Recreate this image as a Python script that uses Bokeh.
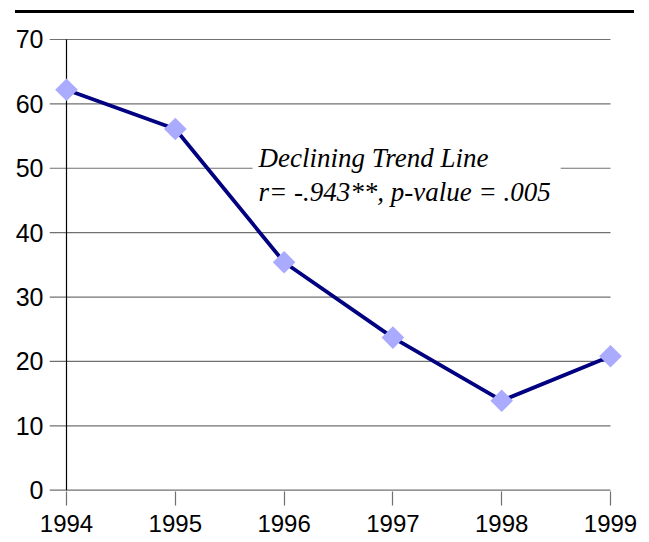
import math
from bokeh.plotting import figure
from bokeh.models import Range1d, Label, Div, FixedTicker
from bokeh.layouts import column
from bokeh.embed import file_html
from bokeh.resources import INLINE

years = [1994, 1995, 1996, 1997, 1998, 1999]
values = [62.2, 56.1, 35.4, 23.7, 13.9, 20.8]
y_ticks = [0, 10, 20, 30, 40, 50, 60, 70]
annotation_lines = ["Declining Trend Line", "r= -.943**, p-value = .005"]

# scale: 108.8 px per year, 451/70 px per unit
PX_X = 544 / 5
PX_Y = 451 / 70
x_start = years[0] - 17 / PX_X      # room for the tick extension of gridlines
x_end = years[-1] + 13 / PX_X       # room for the last marker
y_start = y_ticks[0] - 1.3 / PX_Y
y_end = y_ticks[-1] + 2 / PX_Y

p = figure(
    frame_width=int(round((x_end - x_start) * PX_X)),
    frame_height=int(round((y_end - y_start) * PX_Y)),
    x_range=Range1d(x_start, x_end), y_range=Range1d(y_start, y_end),
    output_backend="svg", toolbar_location=None,
    min_border_left=49, min_border_right=16, min_border_top=24, min_border_bottom=50,
)
p.outline_line_color = None
p.background_fill_color = "white"
p.xgrid.grid_line_color = None
p.ygrid.grid_line_color = None

# gridlines (with their outward tick extension) and the y axis line
n = len(y_ticks)
p.segment(x0=[x_start] * n, y0=y_ticks, x1=[years[-1]] * n, y1=y_ticks,
          line_color="#707070", line_width=1.2)
p.segment(x0=[years[0]], y0=[y_ticks[0]], x1=[years[0]], y1=[y_ticks[-1]],
          line_color="black", line_width=1.2)

# y axis (labels only)
p.yaxis.ticker = FixedTicker(ticks=y_ticks)
p.yaxis.axis_line_color = None
p.yaxis.major_tick_line_color = None
p.yaxis.minor_tick_line_color = None
p.yaxis.major_tick_out = 0
p.yaxis.major_tick_in = 0
p.yaxis.major_label_standoff = 6
p.yaxis.major_label_text_font = "Liberation Sans"
p.yaxis.major_label_text_font_size = "25px"
p.yaxis.major_label_text_color = "black"

# x axis
p.xaxis.ticker = FixedTicker(ticks=years)
p.xaxis.axis_line_color = None
p.xaxis.major_tick_out = 14
p.xaxis.major_tick_in = 0
p.xaxis.minor_tick_line_color = None
p.xaxis.major_tick_line_color = "#707070"
p.xaxis.major_tick_line_width = 1.2
p.xaxis.major_label_standoff = 9
p.xaxis.major_label_text_font = "Liberation Sans"
p.xaxis.major_label_text_font_size = "24px"
p.xaxis.major_label_text_color = "black"

# annotation box
lbl = Label(
    x=1995.71, y=54.3, text="\n".join(annotation_lines),
    text_font="Liberation Serif", text_font_style="italic",
    text_font_size="27px", text_color="black",
    text_align="left", text_baseline="top", text_line_height=1.15,
    background_fill_color="white",
    padding=dict(left=6, right=10, top=2, bottom=2),
)
p.add_layout(lbl)

# data
p.line(years, values, line_color="#000080", line_width=3.8)
p.scatter(years, values, marker="square", angle=math.pi / 4, size=16,
          fill_color="#AAAAFF", line_color=None)

top_rule = Div(text="", width=619, height=3, margin=(10, 0, 0, 15),
               styles={"background-color": "black"})

layout = column(top_rule, p, spacing=0)

open("out.html", "w").write(file_html(layout, INLINE))
